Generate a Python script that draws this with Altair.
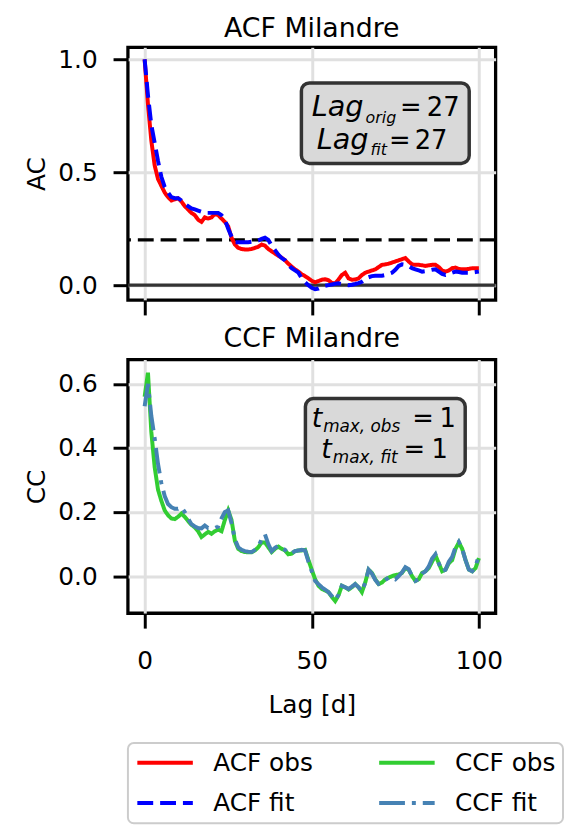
import altair as alt
import pandas as pd

# ---------------- data ----------------
LAGS = list(range(101))

ACF_OBS = [1.00, 0.80, 0.64, 0.53, 0.47, 0.44, 0.41, 0.39, 0.375, 0.38,
           0.385, 0.37, 0.35, 0.335, 0.32, 0.31, 0.29, 0.28, 0.30, 0.295,
           0.30, 0.315, 0.31, 0.295, 0.28, 0.26, 0.21, 0.18, 0.165, 0.16,
           0.158, 0.158, 0.16, 0.165, 0.17, 0.18, 0.175, 0.16, 0.15, 0.14,
           0.13, 0.122, 0.11, 0.095, 0.082, 0.07, 0.06, 0.048, 0.04, 0.03,
           0.019, 0.013, 0.018, 0.024, 0.026, 0.022, 0.01, 0.008, 0.025, 0.045,
           0.055, 0.03, 0.024, 0.025, 0.03, 0.045, 0.055, 0.06, 0.065, 0.07,
           0.08, 0.09, 0.092, 0.095, 0.10, 0.105, 0.11, 0.115, 0.12, 0.105,
           0.092, 0.09, 0.09, 0.088, 0.085, 0.088, 0.09, 0.09, 0.08, 0.065,
           0.06, 0.065, 0.075, 0.078, 0.072, 0.07, 0.07, 0.072, 0.075, 0.075,
           0.075]

ACF_FIT = [1.00, 0.84, 0.71, 0.63, 0.55, 0.48, 0.435, 0.41, 0.39, 0.385,
           0.385, 0.375, 0.36, 0.35, 0.34, 0.335, 0.33, 0.325, 0.32, 0.32,
           0.32, 0.32, 0.32, 0.31, 0.29, 0.25, 0.215, 0.19, 0.19, 0.19,
           0.19, 0.19, 0.192, 0.195, 0.198, 0.205, 0.21, 0.20, 0.175, 0.155,
           0.135, 0.12, 0.11, 0.09, 0.075, 0.065, 0.055, 0.03, 0.013, 0.0,
           -0.012, -0.018, -0.015, -0.008, -0.003, 0.0, 0.003, 0.006, 0.008, 0.005,
           0.002, 0.0, 0.002, 0.005, 0.009, 0.015, 0.025, 0.035, 0.04, 0.042,
           0.042, 0.042, 0.045, 0.05, 0.055, 0.068, 0.085, 0.092, 0.09, 0.085,
           0.075, 0.07, 0.065, 0.06, 0.062, 0.065, 0.068, 0.07, 0.06, 0.05,
           0.045, 0.048, 0.055, 0.06, 0.058, 0.055, 0.055, 0.055, 0.056, 0.058,
           0.06]

CCF_OBS = [0.56, 0.635, 0.45, 0.34, 0.27, 0.235, 0.205, 0.19, 0.18, 0.178,
           0.185, 0.195, 0.185, 0.172, 0.16, 0.152, 0.14, 0.122, 0.13, 0.138,
           0.132, 0.14, 0.145, 0.14, 0.175, 0.205, 0.175, 0.11, 0.085, 0.078,
           0.075, 0.074, 0.074, 0.08, 0.09, 0.105, 0.105, 0.09, 0.075, 0.085,
           0.092, 0.085, 0.08, 0.068, 0.07, 0.078, 0.08, 0.08, 0.082, 0.05,
           0.02, -0.01, -0.03, -0.04, -0.045, -0.05, -0.065, -0.078, -0.06, -0.03,
           -0.035, -0.042, -0.035, -0.025, -0.035, -0.05, -0.02, 0.02, 0.01, -0.01,
           -0.025, -0.02, -0.01, -0.005, 0.0, 0.003, 0.005, 0.01, 0.025, 0.02,
           0.0, -0.015, -0.01, 0.01, 0.015, 0.025, 0.045, 0.065, 0.04, 0.015,
           0.02, 0.04, 0.05, 0.085, 0.105, 0.085, 0.05, 0.02, 0.015, 0.025,
           0.056]

CCF_FIT = [0.53, 0.60, 0.50, 0.43, 0.35, 0.29, 0.25, 0.225, 0.215, 0.21,
           0.21, 0.215, 0.20, 0.18, 0.162, 0.155, 0.15, 0.149, 0.158, 0.15,
           0.148, 0.15, 0.155, 0.18, 0.20, 0.205, 0.165, 0.115, 0.09, 0.082,
           0.078, 0.076, 0.075, 0.082, 0.092, 0.115, 0.13, 0.10, 0.078, 0.088,
           0.095, 0.088, 0.082, 0.07, 0.072, 0.078, 0.08, 0.082, 0.08, 0.045,
           0.015, -0.015, -0.025, -0.035, -0.042, -0.05, -0.062, -0.075, -0.058, -0.03,
           -0.035, -0.04, -0.033, -0.025, -0.035, -0.048, -0.02, 0.02, 0.008, -0.012,
           -0.025, -0.022, -0.012, -0.005, -0.005, -0.01, 0.0, 0.012, 0.028, 0.022,
           0.0, -0.015, -0.01, 0.008, 0.015, 0.03, 0.055, 0.068, 0.04, 0.015,
           0.02, 0.045, 0.06, 0.09, 0.107, 0.085, 0.05, 0.02, 0.015, 0.03,
           0.066]

SERIES = ["ACF obs", "ACF fit", "CCF obs", "CCF fit"]
COLORS = ["#ff0000", "#0000ff", "#32cd32", "#4682b4"]
DASHES = [[1, 0], [16, 7], [1, 0], [26, 7, 4, 7]]

X_TICKS = [0, 50, 100]
AC_TICKS = [0.0, 0.5, 1.0]
CC_TICKS = [0.0, 0.2, 0.4, 0.6]
X_DOMAIN = [-5, 105]
AC_DOMAIN = [-0.066, 1.053]
CC_DOMAIN = [-0.116, 0.676]
AC_THRESHOLD = 0.2

# annotation boxes (data coordinates)
AC_BOX = {"x": [46.9], "x2": [97.1], "y": [0.539], "y2": [0.895]}
CC_BOX = {"x": [48.1], "x2": [95.9], "y": [0.314], "y2": [0.554]}

AC_MAIN = {"t": ["Lag", "Lag"], "x": [65.5, 67.0], "y": [0.75, 0.605]}
AC_SUB = {"t": ["orig", "fit"], "x": [66.1, 67.6], "y": [0.719, 0.575]}
AC_EQS = {"t": ["=", "="], "x": [79.6, 76.3], "y": [0.75, 0.605]}
AC_VAL = {"t": ["27", "27"], "x": [84.4, 80.8], "y": [0.75, 0.605]}
CC_MAIN = {"t": ["t", "t"], "x": [53.1, 56.0], "y": [0.465, 0.369]}
CC_SUB = {"t": ["max, obs", "max, fit"], "x": [53.4, 56.3], "y": [0.449, 0.354]}
CC_EQS = {"t": ["=", "="], "x": [83.3, 80.7], "y": [0.465, 0.369]}
CC_VAL = {"t": ["1", "1"], "x": [88.2, 85.8], "y": [0.465, 0.369]}

FONT = "DejaVu Sans"

# ---------------- chart ----------------
color_scale = alt.Scale(domain=SERIES, range=COLORS)
dash_scale = alt.Scale(domain=SERIES, range=DASHES)
legend = alt.Legend(
    title=None, orient="none", legendX=0, legendY=702, columns=2,
    symbolType="M-2.8,0H2.8", symbolSize=400, symbolStrokeWidth=4, symbolOffset=18,
    labelFontSize=25, labelFont=FONT, labelColor="black", labelOffset=36, labelLimit=0,
    columnPadding=58, rowPadding=15, padding=7, strokeColor="#cccccc",
    fillColor="white", cornerRadius=6,
)


def long_df(names, arrays):
    rows = []
    for n, arr in zip(names, arrays):
        for lag, v in zip(LAGS, arr):
            rows.append({"lag": lag, "value": v, "series": n})
    return pd.DataFrame(rows)


def panel(obs_name, obs, fit_name, fit, ydomain, yticks, ytitle, show_x, title, title_offset,
          extra_rules, box, main, sub, eqs, val, main_size, sub_size):
    xs = alt.Scale(domain=X_DOMAIN, nice=False, zero=False)
    ys = alt.Scale(domain=ydomain, nice=False, zero=False)
    if show_x:
        xax = alt.Axis(values=X_TICKS, labels=True, format="d", title="Lag [d]")
    else:
        xax = alt.Axis(values=X_TICKS, labels=False, title=None)
    yax = alt.Axis(values=yticks, format=".1f", title=ytitle)

    def X(f="lag"):
        return alt.X(f"{f}:Q", scale=xs, axis=xax)

    def Y(f="value"):
        return alt.Y(f"{f}:Q", scale=ys, axis=yax)

    layers = []
    for yv, dash, col in extra_rules:
        layers.append(
            alt.Chart(pd.DataFrame({"value": [yv]})).mark_rule(
                strokeDash=dash, strokeWidth=3.3, color=col
            ).encode(y=Y())
        )

    def series_layer(name, arr):
        return alt.Chart(long_df([name], [arr])).mark_line(strokeWidth=4).encode(
            x=X(), y=Y(),
            color=alt.Color("series:N", scale=color_scale, legend=legend),
            strokeDash=alt.StrokeDash("series:N", scale=dash_scale, legend=legend),
        )

    layers.append(series_layer(obs_name, obs))
    layers.append(series_layer(fit_name, fit))

    layers.append(
        alt.Chart(pd.DataFrame(box)).mark_rect(
            cornerRadius=8, fill="#d9d9d9", stroke="#333333", strokeWidth=3.5
        ).encode(x=X("x"), x2="x2:Q", y=Y("y"), y2="y2:Q")
    )

    def text_layer(d, size, align, italic):
        kw = dict(font=FONT, fontSize=size, align=align, baseline="alphabetic", color="black")
        if italic:
            kw["fontStyle"] = "italic"
        return alt.Chart(pd.DataFrame(d)).mark_text(**kw).encode(
            x=X("x"), y=Y("y"), text="t:N"
        )

    layers.append(text_layer(main, main_size, "right", True))
    layers.append(text_layer(sub, sub_size, "left", True))
    layers.append(text_layer(eqs, 26, "center", False))
    layers.append(text_layer(val, 26, "left", False))

    h = 255 if not show_x else 256
    return alt.layer(*layers).properties(
        width=371, height=h,
        title=alt.TitleParams(title, offset=title_offset, baseline="alphabetic", frame="group",
                              fontSize=27, font=FONT, fontWeight="normal", color="black"),
    )


top = panel("ACF obs", ACF_OBS, "ACF fit", ACF_FIT, AC_DOMAIN, AC_TICKS, "AC", False,
            "ACF Milandre", -16.5,
            [(AC_THRESHOLD, [16, 7], "black"), (0.0, [1, 0], "#333333")],
            AC_BOX, AC_MAIN, AC_SUB, AC_EQS, AC_VAL, 29, 16)
bottom = panel("CCF obs", CCF_OBS, "CCF fit", CCF_FIT, CC_DOMAIN, CC_TICKS, "CC", True,
               "CCF Milandre", -14.6, [], CC_BOX, CC_MAIN, CC_SUB, CC_EQS, CC_VAL, 27, 17)

chart = alt.vconcat(top, bottom, spacing=4).resolve_scale(
    y="independent"
).properties(
    padding={"left": 15, "top": 1, "right": 0, "bottom": 0}
).configure_axis(
    labelFont=FONT, labelFontSize=25, labelColor="black",
    titleFont=FONT, titleFontSize=25, titleFontWeight="normal", titleColor="black",
    tickColor="black", tickWidth=3, tickSize=15, labelPadding=16,
    domain=False, gridColor="#e0e0e0", gridWidth=3,
).configure_axisY(titlePadding=8).configure_axisX(titlePadding=19, labelPadding=21).configure_view(
    stroke="black", strokeWidth=3.3
).configure_legend(strokeWidth=2)

chart.save("out.html", embed_options={"renderer": "svg", "actions": False})
